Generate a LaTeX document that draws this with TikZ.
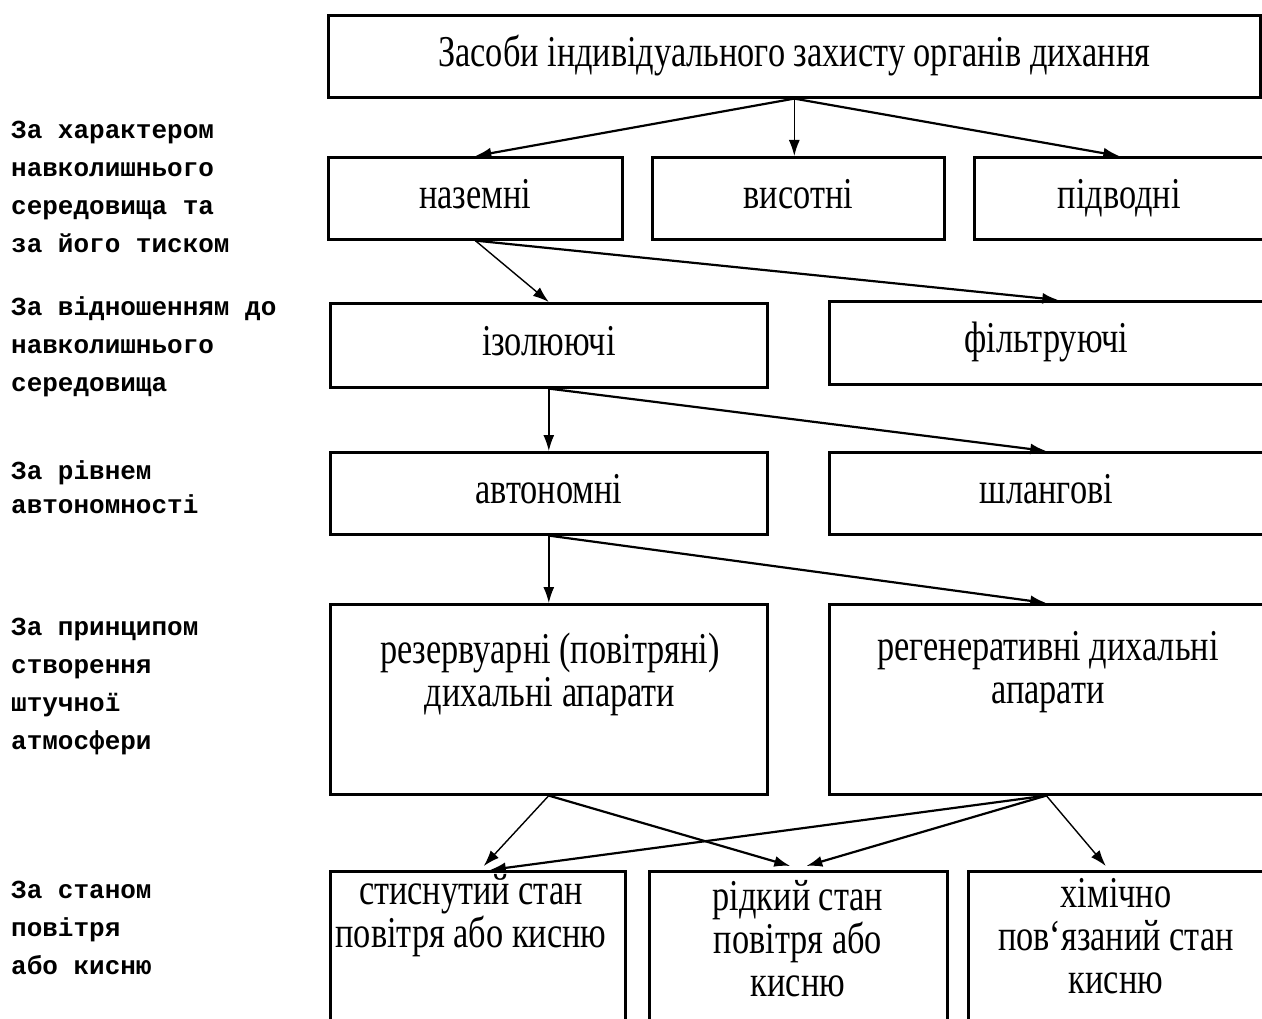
\documentclass[tikz,border=0pt]{standalone}
\usepackage{fontspec}
\setmainfont{Liberation Serif}[FakeStretch=0.78]
\newfontfamily\labfont{Liberation Mono}
\usetikzlibrary{arrows.meta,calc}
\begin{document}
\begin{tikzpicture}[x=1pt,y=-1pt,
  box/.style={draw, line width=2.6pt, rectangle, inner sep=0pt, anchor=north west,
    font=\fontsize{44}{44}\selectfont, text height=20pt, text depth=0pt},
  txt/.style={inner sep=0pt, align=center, font=\fontsize{44}{43}\selectfont},
  lab/.style={inner sep=0pt, align=left, anchor=west, font=\labfont\bfseries\fontsize{26}{38}\selectfont},
  arr/.style={line width=2.2pt, -{Latex[length=16pt,width=11pt]}},
  varr/.style={line width=1.4pt, -{Latex[length=16pt,width=11pt]}}]
\fill[white] (0,0) rectangle (1262,1019);
\useasboundingbox (0,0) rectangle (1262,1019);

% boxes
\node[box, minimum width=932pt, minimum height=82pt] (top) at (327,14) {Засоби індивідуального захисту органів дихання};
\node[box, minimum width=294pt, minimum height=82pt] (naz) at (327,156) {наземні};
\node[box, minimum width=292pt, minimum height=82pt] (vys) at (651,156) {висотні};
\node[box, minimum width=290pt, minimum height=82pt] (pid) at (973,156) {підводні};
\node[box, minimum width=437pt, minimum height=84pt] (izo) at (329,302) {ізолюючі};
\node[box, minimum width=434pt, minimum height=83pt] (fil) at (828,300) {фільтруючі};
\node[box, minimum width=437pt, minimum height=82pt] (avt) at (329,451) {автономні};
\node[box, minimum width=434pt, minimum height=82pt] (shl) at (828,451) {шлангові};
\node[box, minimum width=437pt, minimum height=190pt] (rez) at (329,603) {};
\node[box, minimum width=434pt, minimum height=190pt] (reg) at (828,603) {};
\node[box, minimum width=295pt, minimum height=180pt] (b1) at (329,870) {};
\node[box, minimum width=298pt, minimum height=180pt] (b2) at (648,870) {};
\node[box, minimum width=295pt, minimum height=180pt] (b3) at (967,870) {};

% multi-line texts
\node[txt] (trez) at (550,674) {резервуарні (повітряні)\\дихальні апарати};
\node[txt] (treg) at (1048,672) {регенеративні дихальні\\апарати};
\node[txt] (tb1) at (471,916) {стиснутий стан\\повітря або кисню};
\node[txt] (tb2) at (798,939) {рідкий стан\\повітря або\\кисню};
\node[txt] (tb3) at (1116,936) {хімічно\\пов`язаний стан\\кисню};

% left labels
\node[lab] (l1) at (11,187) {За характером\\навколишнього\\середовища та\\за його тиском};
\node[lab] (l2) at (11,347) {За відношенням до\\навколишнього\\середовища};
\node[lab, font=\labfont\bfseries\fontsize{26}{34}\selectfont] (l3) at (11,487) {За рівнем\\автономності};
\node[lab] (l4) at (11,687) {За принципом\\створення\\штучної\\атмосфери};
\node[lab] (l5) at (11,928) {За станом\\повітря\\або кисню};

% connectors
\draw[arr] (top.south) -- (naz.north);
\draw[varr] (top.south) -- (top.south |- vys.north);
\draw[arr] (top.south) -- (pid.north);
\draw[varr] (naz.south) -- (izo.north);
\draw[arr] (naz.south) -- ($(fil.north)+(12,0)$);
\draw[varr] (izo.south) -- (avt.north);
\draw[arr] (izo.south) -- (shl.north);
\draw[varr] (avt.south) -- (rez.north);
\draw[arr] (avt.south) -- (reg.north);
\draw[varr] (rez.south) -- ($(b1.north)+(6,-4)$);
\draw[arr] (rez.south) -- ($(b2.north)+(-8,-4)$);
\draw[arr] (reg.south) -- ($(b1.north)+(12,0)$);
\draw[arr] (reg.south) -- ($(b2.north)+(8,-4)$);
\draw[varr] (reg.south) -- ($(b3.north)+(-10,-4)$);
\end{tikzpicture}
\end{document}
